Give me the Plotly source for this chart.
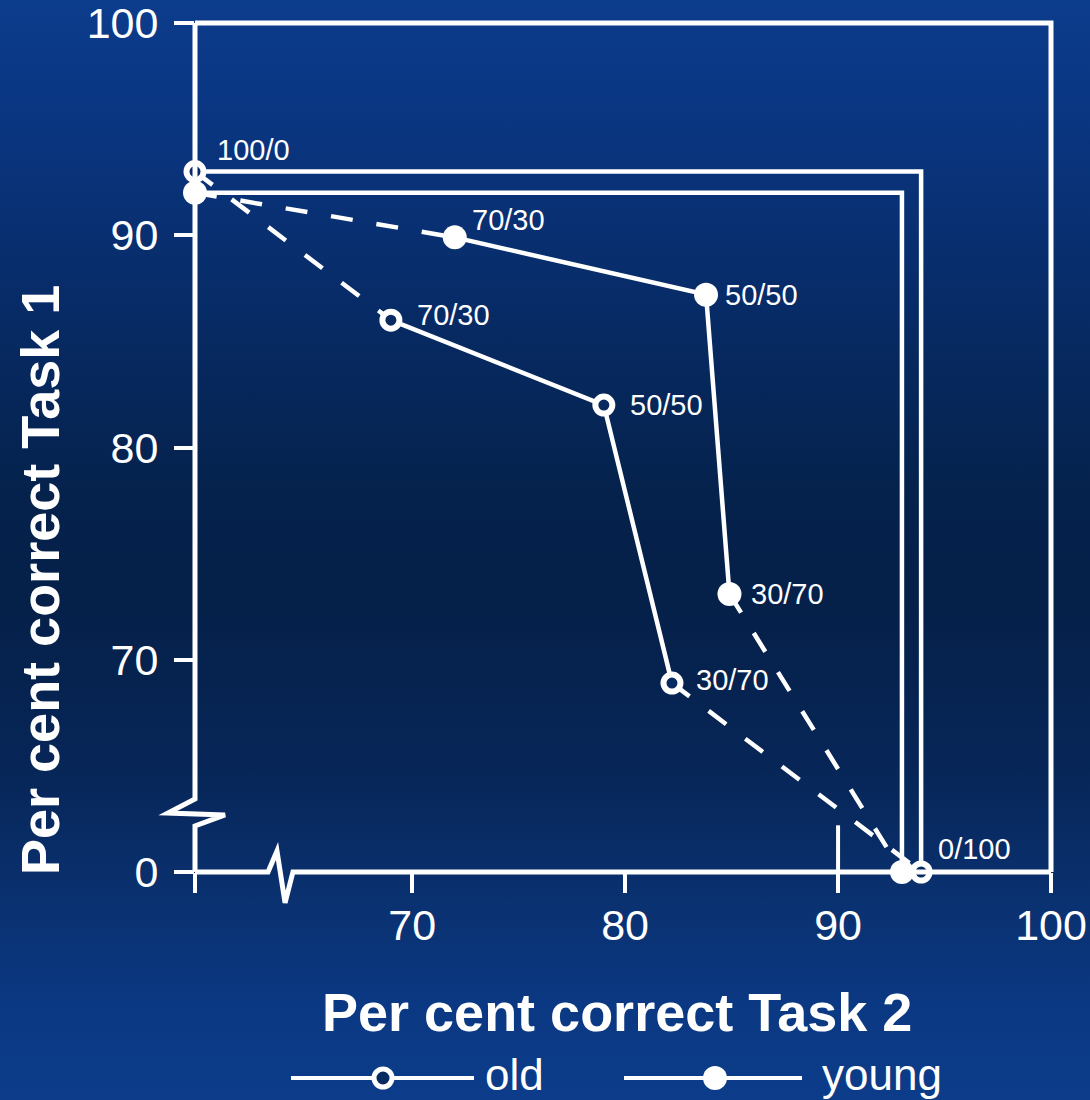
import base64
import plotly.graph_objects as go

# Priority conditions (emphasis Task 1 / Task 2)
conditions = ["100/0", "70/30", "50/50", "30/70", "0/100"]

# Per cent correct, older participants
old_task2 = [0, 69.0, 79.0, 82.2, 93.9]
old_task1 = [93.0, 86.0, 82.0, 68.9, 0]

# Per cent correct, younger participants
young_task2 = [0, 72.0, 83.8, 84.9, 93.0]
young_task1 = [92.0, 89.9, 87.2, 73.1, 0]

x_tick_vals = [70, 80, 90, 100]
y_tick_vals = [70, 80, 90, 100]
y_zero_label = "0"

# Broken axes: the lower end of each axis stands for 0
X_LO, X_HI = 59.8, 100.0
Y_LO, Y_HI = 60.0, 100.0


def fold_x(v):
    return v if v >= 60 else X_LO


def fold_y(v):
    return v if v >= 60 else Y_LO


W, H = 1090, 1100
XD = [195 / W, 1051 / W]
YD = [1 - 872 / H, 1 - 23 / H]


def xp(v):
    return XD[0] + (v - X_LO) / (X_HI - X_LO) * (XD[1] - XD[0])


def yp(v):
    return YD[0] + (v - Y_LO) / (Y_HI - Y_LO) * (YD[1] - YD[0])


WHITE = "#ffffff"
HOLE = "#072a60"
LW = 4.5
DASH = "22px,24px"

# background gradient
stops = [(0.0, "#0c3c8c"), (0.10, "#0a3682"), (0.28, "#072b66"), (0.45, "#05224c"),
         (0.55, "#052049"), (0.70, "#072658"), (0.82, "#0a3170"), (0.91, "#0b3882"),
         (1.0, "#0c3c8a")]
stop_xml = "".join(f'<stop offset="{o}" stop-color="{c}"/>' for o, c in stops)
svg = (f'<svg xmlns="http://www.w3.org/2000/svg" width="{W}" height="{H}" '
       f'preserveAspectRatio="none"><defs><linearGradient id="g" x1="0" y1="0" x2="0" y2="1">'
       f'{stop_xml}</linearGradient></defs><rect width="{W}" height="{H}" fill="url(#g)"/></svg>')
bg_src = "data:image/svg+xml;base64," + base64.b64encode(svg.encode()).decode()

fig = go.Figure()


def add_group(t2, t1):
    xs = [fold_x(v) for v in t2]
    ys = [fold_y(v) for v in t1]
    # single-task reference box
    fig.add_trace(go.Scatter(x=[X_LO, xs[4], xs[4]], y=[ys[0], ys[0], Y_LO], mode="lines",
                             line=dict(color=WHITE, width=LW), hoverinfo="skip",
                             showlegend=False, cliponaxis=False))
    # dashed links to the single-task points
    fig.add_trace(go.Scatter(x=[xs[0], xs[1], None, xs[3], xs[4]],
                             y=[ys[0], ys[1], None, ys[3], ys[4]], mode="lines",
                             line=dict(color=WHITE, width=LW, dash=DASH),
                             hoverinfo="skip", showlegend=False))
    # solid dual-task operating characteristic
    fig.add_trace(go.Scatter(x=xs[1:4], y=ys[1:4], mode="lines",
                             line=dict(color=WHITE, width=LW), hoverinfo="skip",
                             showlegend=False))
    return xs, ys


old_xy = add_group(old_task2, old_task1)
young_xy = add_group(young_task2, young_task1)

fig.add_trace(go.Scatter(x=old_xy[0], y=old_xy[1], mode="markers", cliponaxis=False,
                         marker=dict(symbol="circle", size=17, color=HOLE,
                                     line=dict(color=WHITE, width=6)),
                         name="old", showlegend=False))
fig.add_trace(go.Scatter(x=young_xy[0], y=young_xy[1], mode="markers", cliponaxis=False,
                         marker=dict(symbol="circle", size=24, color=WHITE,
                                     line=dict(color=WHITE, width=0)),
                         name="young", showlegend=False))

LABEL_FONT = dict(family="Liberation Sans, Arial", size=29, color=WHITE)

# point labels: (group xy, index, xshift, yshift)
label_spec = [
    (old_xy, 0, 20, 22),
    (young_xy, 1, 15, 17),
    (young_xy, 2, 17, 0),
    (young_xy, 3, 20, 0),
    (old_xy, 1, 24, 5),
    (old_xy, 2, 24, 0),
    (old_xy, 3, 22, 3),
    (old_xy, 4, 15, 23),
]
annotations = []
for (xs, ys), i, dx, dy in label_spec:
    annotations.append(dict(x=xs[i], y=ys[i], xref="x", yref="y", text=conditions[i],
                            showarrow=False, xanchor="left", yanchor="middle",
                            xshift=dx, yshift=dy, font=LABEL_FONT))

TITLE_FONT = dict(family="Liberation Sans, Arial", size=54, color=WHITE)
annotations.append(dict(x=617 / W, y=1 - 1012 / H, xref="paper", yref="paper",
                        text="<b>Per cent correct Task 2</b>", showarrow=False,
                        xanchor="center", yanchor="middle", font=TITLE_FONT))
annotations.append(dict(x=40 / W, y=1 - 580 / H, xref="paper", yref="paper",
                        text="<b>Per cent correct Task 1</b>", showarrow=False, textangle=-90,
                        xanchor="center", yanchor="middle", font=TITLE_FONT))

LEG_FONT = dict(family="Liberation Sans, Arial", size=44, color=WHITE)
annotations.append(dict(x=483 / W, y=1 - 1074 / H, xref="paper", yref="paper", text="old",
                        showarrow=False, xanchor="left", yanchor="middle", font=LEG_FONT))
annotations.append(dict(x=820 / W, y=1 - 1074 / H, xref="paper", yref="paper", text="young",
                        showarrow=False, xanchor="left", yanchor="middle", font=LEG_FONT))


def path(points):
    return "M " + " L ".join(f"{x:.5f},{y:.5f}" for x, y in points)


line_style = dict(color=WHITE, width=5)
shapes = []
# frame: top and right
shapes.append(dict(type="path", xref="paper", yref="paper", line=line_style,
                   path=path([(xp(X_LO), yp(100)), (xp(100), yp(100)), (xp(100), yp(60))])))
# bottom axis with break
shapes.append(dict(type="path", xref="paper", yref="paper", line=line_style,
                   path=path([(xp(X_LO), yp(60)), (xp(63.23), yp(60)), (xp(63.65), yp(60.99)),
                              (xp(64.03), yp(58.54)), (xp(64.40), yp(60)), (xp(100), yp(60))])))
# left axis with break
shapes.append(dict(type="path", xref="paper", yref="paper", line=line_style,
                   path=path([(xp(X_LO), yp(100)), (xp(X_LO), yp(63.44)), (xp(58.53), yp(62.78)),
                              (xp(61.21), yp(62.69)), (xp(X_LO), yp(62.17)), (xp(X_LO), yp(60))])))
# inner tick at 90
shapes.append(dict(type="line", xref="paper", yref="paper", line=dict(color=WHITE, width=4),
                   x0=xp(90), x1=xp(90), y0=yp(60), y1=yp(62.2)))

# legend samples
LEG_Y = 1 - 1078 / H
for x0, x1, xc, fill, r in [(291, 474, 383, HOLE, 9), (624, 802, 715, WHITE, 12)]:
    shapes.append(dict(type="line", xref="paper", yref="paper", line=dict(color=WHITE, width=4),
                       x0=x0 / W, x1=x1 / W, y0=LEG_Y, y1=LEG_Y))
    shapes.append(dict(type="circle", xref="paper", yref="paper", fillcolor=fill,
                       line=dict(color=WHITE, width=5 if fill == HOLE else 0),
                       x0=(xc - r) / W, x1=(xc + r) / W, y0=LEG_Y - r / H, y1=LEG_Y + r / H))

TICK_FONT = dict(family="Liberation Sans, Arial", size=43, color=WHITE)
fig.update_layout(
    width=W, height=H,
    margin=dict(l=0, r=0, t=0, b=0, autoexpand=False),
    paper_bgcolor="#072a60",
    plot_bgcolor="rgba(0,0,0,0)",
    showlegend=False,
    xaxis=dict(domain=XD, range=[X_LO, X_HI], showgrid=False, zeroline=False, showline=False,
               automargin=False, ticklabeloverflow="allow",
               tickmode="array", tickvals=[X_LO] + x_tick_vals,
               ticktext=[""] + [str(v) for v in x_tick_vals],
               ticks="outside", ticklen=20, tickwidth=4, tickcolor=WHITE,
               ticklabelstandoff=-5, tickfont=TICK_FONT),
    yaxis=dict(domain=YD, range=[Y_LO, Y_HI], showgrid=False, zeroline=False, showline=False,
               automargin=False, ticklabeloverflow="allow",
               tickmode="array", tickvals=[Y_LO] + y_tick_vals,
               ticktext=[y_zero_label] + [str(v) for v in y_tick_vals],
               ticks="outside", ticklen=20, tickwidth=4, tickcolor=WHITE,
               ticklabelstandoff=7, tickfont=TICK_FONT),
    annotations=annotations,
    shapes=shapes,
    images=[dict(source=bg_src, xref="paper", yref="paper", x=0, y=1, sizex=1, sizey=1,
                 sizing="stretch", xanchor="left", yanchor="top", layer="below")],
)

fig.write_html("out.html")
